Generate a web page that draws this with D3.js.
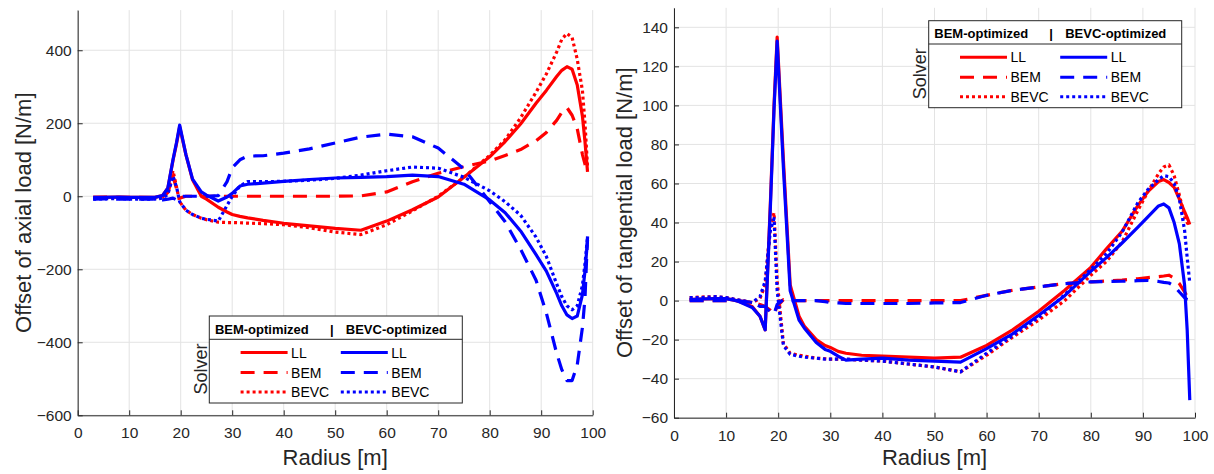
<!DOCTYPE html>
<html>
<head>
<meta charset="utf-8">
<script src="https://cdn.jsdelivr.net/npm/d3@7"></script>
<style>
  body { margin: 0; background: #fff; }
  svg { display: block; font-family: "Liberation Sans", Arial, Helvetica, sans-serif; }
</style>
</head>
<body>
<script>
// radial stations [m], shared by every series
var radius = [3, 5, 8, 10, 12, 15, 16.5, 17.5, 18.5, 19.2, 19.8, 21, 22.3, 24, 25, 27.3, 29, 30, 31.5, 33,
              36, 40, 45, 50, 55, 60, 65, 70, 75, 80, 83, 86, 89, 91, 93, 94, 95, 96, 97, 98, 98.5, 99];

// offset of axial load [N/m]  (blade design _ solver)
var axialLL_BEM   = [-3, -3, -2, -3, -3, -3, 2, 22, 98, 145, 190, 115, 45, 0, -8, -30, -43, -50, -55, -59,
                     -66, -74, -81, -88, -93, -68, -37, -2, 52, 108, 150, 198, 255, 290, 328, 345, 355, 348, 305, 220, 150, 67];
var axialBEM_BEM  = [-3, -2, -3, -3, -3, -4, -2, 10, 55, 20, -5, 0, 0, 0, 0, 0, 0, 0, 0, 0,
                     0, 0, 0, 0, 1, 12, 40, 63, 81, 97, 112, 128, 152, 175, 208, 230, 243, 222, 185, 115, 88, 62];
var axialBEVC_BEM = [-5, -5, -4, -5, -5, -6, -3, 10, 70, 25, -15, -38, -50, -60, -64, -71, -72, -72, -72.5, -73.5,
                     -75, -78, -86, -98, -105, -78, -40, 0, 52, 112, 155, 215, 285, 335, 395, 430, 446, 435, 375, 290, 200, 80];
var axialLL_BEVC  = [-3, -3, -2, -3, -3, -3, 2, 22, 100, 148, 195, 115, 47, 12, 3, -13, -2, 8, 28, 33,
                     36, 41, 46, 50, 52, 54, 58, 54, 33, -10, -45, -95, -160, -205, -266, -300, -325, -335, -328, -270, -205, -120];
var axialBEM_BEVC = [-8, -7, -8, -8, -8, -8, -10, -8, -5, -10, 0, 0, 0, 0, 0, 2, 40, 78, 100, 110,
                     111, 118, 130, 146, 162, 170, 163, 132, 75, -15, -70, -145, -230, -320, -430, -475, -505, -505, -462, -360, -280, -110];
var axialBEVC_BEVC = [-8, -7, -6, -8, -8, -8, -5, 5, 55, 25, -15, -38, -50, -60, -63, -68, -25, 0, 28, 40,
                      40, 41, 44, 49, 58, 70, 80, 77, 52, 15, -15, -52, -112, -165, -240, -275, -300, -311, -300, -245, -185, -111];

// offset of tangential load [N/m]
var tangLL_BEM    = [0.5, 0.8, 1, 1, 0, -3, -8, -15, 50, 100, 135, 72, 8, -8, -13, -20, -23, -24, -26, -27,
                     -28, -28.5, -29, -29.5, -29, -23, -15, -5.5, 5.3, 17, 26.5, 35.5, 48.5, 56, 61, 62, 60.5, 58, 52, 45.5, 42.5, 39];
var tangBEM_BEM   = [0, 0, 0, 0, 0, -1, -2, -3, -5, -7, -3, 0.5, 0, 0, 0, 0, 0, 0, 0, 0,
                     0, 0, 0, 0, 0, 2.7, 5.3, 7, 8.7, 9.6, 10, 10.5, 11.2, 11.8, 12.3, 12.6, 13, 11.5, 8.7, 4.5, 2, 0];
var tangBEVC_BEM  = [1.5, 1.8, 2, 1.5, 0.5, -1, 1, 8, 38, 45, 10, -22, -27, -28, -28.5, -29.5, -29.8, -30, -30, -30,
                     -30.5, -31, -32.5, -34, -36.5, -28, -18.7, -10, 0, 13, 20, 30, 46, 56, 65, 68.5, 69.5, 64, 54, 43, 40, 38];
var tangLL_BEVC   = [0.5, 0.8, 1, 1, 0, -3.5, -8, -15, 48, 98, 133, 68, 5, -10, -14, -21.5, -25, -26, -28.5, -30.5,
                     -30, -29.5, -30.5, -31, -31.5, -24.6, -17, -7.5, 2.5, 15, 22, 29.5, 37.5, 43, 48.5, 49.5, 47.5, 40, 29, 8, -15, -51];
var tangBEM_BEVC  = [0, 0, 0, 0, 0, -1, -3, -3, -6, -7, -2, 0.5, 0, 0, 0, 0, -0.5, -1, -1.2, -1.5,
                     -1.5, -1.5, -1.5, -1.2, -1, 2.7, 5.3, 7, 8.7, 9.6, 9.8, 9.9, 10.2, 10.3, 9.8, 9.3, 9, 7.5, 4.4, 1.5, 0.5, 0];
var tangBEVC_BEVC = [1.5, 1.5, 2, 1.5, 0.5, -1, 2, 10, 36, 42, 5, -23, -27.5, -28.5, -29, -29.5, -30, -30, -30, -30,
                     -30.5, -31, -32.5, -34, -36.5, -27, -18, -8.5, 3, 16, 24, 35, 50, 57, 62, 64, 63.5, 60, 52, 36, 22, 9];

// ticks and legend texts
var radiusTicks = [0, 10, 20, 30, 40, 50, 60, 70, 80, 90, 100];
var axialTicks = [-600, -400, -200, 0, 200, 400];
var tangTicks = [-60, -40, -20, 0, 20, 40, 60, 80, 100, 120, 140];
var designs = ["BEM-optimized", "BEVC-optimized"];
var solvers = ["LL", "BEM", "BEVC"];

var W = 1214, H = 474;
var ink = "#262626";
var designColor = {"BEM-optimized": "#ff0000", "BEVC-optimized": "#0000ff"};
var solverDash = {"LL": null, "BEM": "14,9", "BEVC": "3,3"};

var svg = d3.select("body").append("svg")
    .attr("width", W)
    .attr("height", H);

function drawPanel(p) {
  var x = d3.scaleLinear().domain([0, 100]).range([p.left, p.right]);
  var y = d3.scaleLinear().domain(p.yDomain).range([p.bottom, p.top]);
  var g = svg.append("g");

  // grid
  g.append("g").selectAll("line").data(radiusTicks).enter().append("line")
      .attr("x1", function(d) { return x(d); }).attr("x2", function(d) { return x(d); })
      .attr("y1", p.top).attr("y2", p.bottom)
      .attr("stroke", "#e3e3e3").attr("stroke-width", 1);
  g.append("g").selectAll("line").data(p.yTicks).enter().append("line")
      .attr("x1", p.left).attr("x2", p.right)
      .attr("y1", function(d) { return y(d); }).attr("y2", function(d) { return y(d); })
      .attr("stroke", "#e3e3e3").attr("stroke-width", 1);

  // curves
  var line = d3.line()
      .x(function(d) { return x(d[0]); })
      .y(function(d) { return y(d[1]); });

  p.series.forEach(function(s) {
    g.append("path")
        .datum(radius.map(function(r, i) { return [r, s.values[i]]; }))
        .attr("d", line)
        .attr("fill", "none")
        .attr("stroke", designColor[s.design])
        .attr("stroke-width", 3.2)
        .attr("stroke-dasharray", solverDash[s.solver])
        .attr("stroke-linejoin", "round");
  });

  // axes (ticks point inward, no box)
  var ax = g.append("g")
      .attr("transform", "translate(0," + p.bottom + ")")
      .call(d3.axisBottom(x).tickValues(radiusTicks).tickSize(-5).tickSizeOuter(0).tickPadding(12));
  var ay = g.append("g")
      .attr("transform", "translate(" + p.left + ",0)")
      .call(d3.axisLeft(y).tickValues(p.yTicks).tickSize(-5).tickSizeOuter(0).tickPadding(6));
  [ax, ay].forEach(function(a) {
    a.select(".domain").attr("stroke", ink);
    a.selectAll(".tick line").attr("stroke", ink);
    a.selectAll(".tick text").attr("fill", ink).style("font-size", "15.5px");
  });

  // axis titles
  g.append("text")
      .attr("x", (p.left + p.right) / 2).attr("y", 465)
      .attr("text-anchor", "middle")
      .attr("fill", ink).style("font-size", "22px")
      .text("Radius [m]");
  g.append("text")
      .attr("transform", "translate(" + p.titleX + "," + (p.top + p.bottom) / 2 + ") rotate(-90)")
      .attr("text-anchor", "middle")
      .attr("fill", ink).style("font-size", "22px")
      .text(p.yLabel);

  // legend
  var L = g.append("g").attr("transform", "translate(" + p.legend[0] + "," + p.legend[1] + ")");
  L.append("rect")
      .attr("width", 253).attr("height", 87)
      .attr("fill", "#fff").attr("stroke", ink).attr("stroke-width", 1);
  L.append("line")
      .attr("x1", 0).attr("x2", 253).attr("y1", 23.3).attr("y2", 23.3)
      .attr("stroke", ink).attr("stroke-width", 1);
  L.append("text").attr("x", 5.6).attr("y", 17.6)
      .style("font-size", "13px").style("font-weight", "bold").text(designs[0]);
  L.append("text").attr("x", 122.5).attr("y", 17.6).attr("text-anchor", "middle")
      .style("font-size", "13px").style("font-weight", "bold").text("|");
  L.append("text").attr("x", 136.5).attr("y", 17.6)
      .style("font-size", "13px").style("font-weight", "bold").text(designs[1]);

  var rowY = [36.5, 56.5, 76];
  designs.forEach(function(dsg, j) {
    var x0 = j == 0 ? 31.3 : 131.5;
    solvers.forEach(function(sv, i) {
      L.append("line")
          .attr("x1", x0).attr("x2", x0 + 47)
          .attr("y1", rowY[i]).attr("y2", rowY[i])
          .attr("stroke", designColor[dsg]).attr("stroke-width", 3)
          .attr("stroke-dasharray", solverDash[sv]);
      L.append("text")
          .attr("x", x0 + 50.5).attr("y", rowY[i] + 5)
          .style("font-size", "14px").text(sv);
    });
  });
  L.append("text")
      .attr("transform", "translate(-2.5,53) rotate(-90)")
      .attr("text-anchor", "middle")
      .attr("fill", ink).style("font-size", "18px")
      .text("Solver");
}

drawPanel({
  left: 77.7, right: 592.7, top: 10.1, bottom: 415.3,
  yDomain: [-600, 510], yTicks: axialTicks,
  yLabel: "Offset of axial load [N/m]", titleX: 31,
  legend: [209.3, 316],
  series: [
    {design: "BEM-optimized", solver: "LL", values: axialLL_BEM},
    {design: "BEM-optimized", solver: "BEM", values: axialBEM_BEM},
    {design: "BEM-optimized", solver: "BEVC", values: axialBEVC_BEM},
    {design: "BEVC-optimized", solver: "LL", values: axialLL_BEVC},
    {design: "BEVC-optimized", solver: "BEM", values: axialBEM_BEVC},
    {design: "BEVC-optimized", solver: "BEVC", values: axialBEVC_BEVC}
  ]
});

drawPanel({
  left: 674, right: 1195, top: 7.8, bottom: 417.7,
  yDomain: [-60, 150], yTicks: tangTicks,
  yLabel: "Offset of tangential load [N/m]", titleX: 632,
  legend: [928.7, 20.7],
  series: [
    {design: "BEM-optimized", solver: "LL", values: tangLL_BEM},
    {design: "BEM-optimized", solver: "BEM", values: tangBEM_BEM},
    {design: "BEM-optimized", solver: "BEVC", values: tangBEVC_BEM},
    {design: "BEVC-optimized", solver: "LL", values: tangLL_BEVC},
    {design: "BEVC-optimized", solver: "BEM", values: tangBEM_BEVC},
    {design: "BEVC-optimized", solver: "BEVC", values: tangBEVC_BEVC}
  ]
});
</script>
</body>
</html>
